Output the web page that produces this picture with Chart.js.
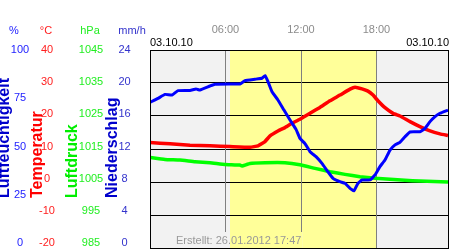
<!DOCTYPE html>
<html>
<head>
<meta charset="utf-8">
<script src="https://cdn.jsdelivr.net/npm/chart.js@4"></script>
<style>
  html, body { margin: 0; padding: 0; background: #fff; }
  #wrap { width: 450px; height: 250px; }
</style>
</head>
<body>
<div id="wrap"><canvas id="wetter"></canvas></div>
<script>
// hours of day (0..24) and readings
const humHours = [0, 0.64, 1.19, 1.75, 2.23, 3.18, 3.66, 3.97, 4.77, 5.17, 6.36, 7.15, 7.55, 8.35, 8.9,
  9.14, 9.38, 9.7, 10.17, 10.65, 11.13, 11.61, 11.92, 12.32, 12.72, 13.2, 13.67, 14.15, 14.55, 15.1,
  15.5, 15.9, 16.22, 16.53, 16.85, 17.49, 17.89, 18.28, 18.68, 19.08, 19.48, 19.87, 20.27, 20.67, 21.46,
  21.86, 22.26, 22.66, 23.05, 23.69];
const humValues = [73.7, 75.7, 77.7, 77.4, 79.6, 79.7, 80.4, 79.9, 81.9, 82.8, 82.9, 82.9, 84.6, 85.3, 85.8,
  87.1, 84.1, 79, 74.9, 69.8, 64.8, 60.1, 55.6, 53, 48.9, 46.4, 43, 38.8, 35.5, 33.8,
  33, 30.5, 29.3, 33, 34.7, 34.7, 37.2, 41.4, 44.7, 49.7, 52.3, 53.6, 56.4, 58.8, 58.9,
  60.6, 64, 66.5, 68.2, 69.8];

const tempHours = [0, 1.59, 3.18, 4.77, 6.36, 7.95, 8.59, 9.14, 9.54, 10.17, 10.73, 11.29, 11.92, 12.72, 13.51,
  14.31, 15.1, 15.9, 16.3, 16.85, 17.33, 17.73, 18.12, 18.68, 19.32, 19.87, 20.67, 21.46, 22.26, 23.05, 23.69];
const tempValues = [12.1, 11.7, 11.3, 11.1, 10.9, 10.7, 11.1, 12.4, 14.1, 15.6, 16.6, 17.9, 19.1, 20.9, 22.7,
  24.7, 26.4, 28.2, 28.8, 28.3, 27.6, 26.4, 24.7, 22.6, 20.9, 20.1, 18.4, 16.9, 15.6, 14.7, 14.2];

const presHours = [0, 1.19, 2.38, 3.58, 4.77, 5.96, 7.15, 7.31, 7.95, 9.14, 10.73, 11.92, 13.12, 14.31, 15.5,
  16.69, 17.89, 19.08, 20.27, 21.46, 23.69];
const presValues = [1012.6, 1012.0, 1011.8, 1011.3, 1011.0, 1010.5, 1010.3, 1010.0, 1010.8, 1011.0, 1011.0,
  1010.4, 1009.3, 1008.3, 1007.5, 1006.8, 1006.3, 1006.0, 1005.7, 1005.5, 1005.2];

// axis ticks
const humTicks = [0, 25, 50, 75, 100];
const tempTicks = [-20, -10, 0, 10, 20, 30, 40];
const presTicks = [985, 995, 1005, 1015, 1025, 1035, 1045];
const precTicks = [0, 4, 8, 12, 16, 20, 24];
const timeTicks = [6, 12, 18];
const timeLabels = ['06:00', '12:00', '18:00'];
const dateLabel = '03.10.10';
const sunrise = 6.36, sunset = 18.0;
const created = 'Erstellt: 26.01.2012 17:47';

function pts(xs, ys) { return xs.map((x, i) => ({ x: x, y: ys[i] })); }

const FONT = '"Liberation Sans", Arial, sans-serif';

const deko = {
  id: 'deko',
  beforeDraw(chart) {
    const c = chart.ctx, a = chart.chartArea, x = chart.scales.x;
    c.save();
    c.fillStyle = '#fff';
    c.fillRect(0, 0, chart.width, chart.height);
    c.fillStyle = '#f2f2f2';
    c.fillRect(a.left, a.top, a.right - a.left, a.bottom - a.top);
    c.fillStyle = '#ffff99';
    const x1 = x.getPixelForValue(sunrise), x2 = x.getPixelForValue(sunset);
    c.fillRect(x1, a.top, x2 - x1, a.bottom - a.top);
    c.restore();
  },
  beforeDatasetsDraw(chart) {
    const c = chart.ctx, a = chart.chartArea, x = chart.scales.x, t = chart.scales.temp;
    c.save();
    c.lineWidth = 1;
    c.strokeStyle = '#000';
    tempTicks.slice(1, -1).forEach(v => {
      const y = Math.round(t.getPixelForValue(v)) - 0.5;
      c.beginPath(); c.moveTo(a.left, y); c.lineTo(a.right, y); c.stroke();
    });
    c.strokeStyle = '#808080';
    timeTicks.forEach(v => {
      const px = Math.round(x.getPixelForValue(v)) + 0.5;
      c.beginPath(); c.moveTo(px, a.top); c.lineTo(px, a.bottom); c.stroke();
    });
    // box behind the "Erstellt" note
    c.font = '11px ' + FONT;
    const w = c.measureText(created).width;
    const bx = 175, by = a.bottom - 17;
    c.fillStyle = '#f2f2f2';
    c.fillRect(bx, by, w + 2, 16);
    const x1 = x.getPixelForValue(sunrise);
    c.fillStyle = '#ffff99';
    c.fillRect(x1, by, bx + w + 2 - x1, 16);
    c.fillStyle = '#999';
    c.textBaseline = 'middle';
    c.textAlign = 'left';
    c.fillText(created, bx + 1, a.bottom - 8);
    c.restore();
  },
  afterDatasetsDraw(chart) {
    const c = chart.ctx, a = chart.chartArea, x = chart.scales.x;
    c.save();
    c.strokeStyle = '#000';
    c.lineWidth = 1;
    c.strokeRect(a.left + 0.5, a.top + 0.5, a.right - a.left - 1, a.bottom - a.top - 1);

    c.font = '11px ' + FONT;
    c.textBaseline = 'middle';
    // top time labels
    c.fillStyle = '#8c8c8c';
    c.textAlign = 'center';
    timeTicks.forEach((v, i) => c.fillText(timeLabels[i], x.getPixelForValue(v), 30));
    c.fillStyle = '#000';
    c.textAlign = 'left';
    c.fillText(dateLabel, a.left, 43);
    c.textAlign = 'right';
    c.fillText(dateLabel, a.right, 43);

    // left columns
    const ly = (s, v) => a.top + (chart.scales[s].getPixelForValue(v) - a.top) * 0.97;
    const cols = [
      { s: 'hum', ticks: humTicks, head: '%', hx: 14, x: 20, color: '#2222ff' },
      { s: 'temp', ticks: tempTicks, head: '°C', hx: 46, x: 47, color: '#ff2020' },
      { s: 'pres', ticks: presTicks, head: 'hPa', hx: 90, x: 91, color: '#22ee22' },
      { s: 'prec', ticks: precTicks, head: 'mm/h', hx: 132, x: 124.5, color: '#3333cc' }
    ];
    c.textAlign = 'center';
    cols.forEach(col => {
      c.fillStyle = col.color;
      c.fillText(col.head, col.hx, 31);
      col.ticks.forEach(v => c.fillText(String(v), col.x, ly(col.s, v)));
    });

    // rotated titles
    const titles = [
      { text: 'Luftfeuchtigkeit', x: 5, color: '#0000cc' },
      { text: 'Temperatur', x: 37.5, color: '#ff0000' },
      { text: 'Luftdruck', x: 73, color: '#00ee00' },
      { text: 'Niederschlag', x: 113, color: '#0000cc' }
    ];
    c.font = 'bold 16px ' + FONT;
    c.textAlign = 'left';
    titles.forEach(tt => {
      c.save();
      c.translate(tt.x, 198);
      c.rotate(-Math.PI / 2);
      c.fillStyle = tt.color;
      c.fillText(tt.text, 0, 0);
      c.restore();
    });
    c.restore();
  }
};

const hidden = (min, max) => ({ type: 'linear', axis: 'y', position: 'left', min: min, max: max, display: false });

new Chart(document.getElementById('wetter'), {
  type: 'line',
  data: {
    datasets: [
      { label: 'Luftfeuchtigkeit', data: pts(humHours, humValues), yAxisID: 'hum',
        borderColor: '#0000ff', borderWidth: 3 },
      { label: 'Luftdruck', data: pts(presHours, presValues), yAxisID: 'pres',
        borderColor: '#00ff00', borderWidth: 3.5 },
      { label: 'Temperatur', data: pts(tempHours, tempValues), yAxisID: 'temp',
        borderColor: '#ff0000', borderWidth: 3.5 }
    ]
  },
  options: {
    responsive: true,
    maintainAspectRatio: false,
    animation: false,
    events: [],
    layout: { padding: { left: 150, top: 50, right: 1, bottom: 1 } },
    elements: { point: { radius: 0 }, line: { tension: 0.1 } },
    plugins: { legend: { display: false }, tooltip: { enabled: false } },
    scales: {
      x: { type: 'linear', min: 0, max: 23.77, display: false },
      hum: hidden(0, 100),
      temp: hidden(-20, 40),
      pres: hidden(985, 1045),
      prec: hidden(0, 24)
    }
  },
  plugins: [deko]
});
</script>
</body>
</html>
